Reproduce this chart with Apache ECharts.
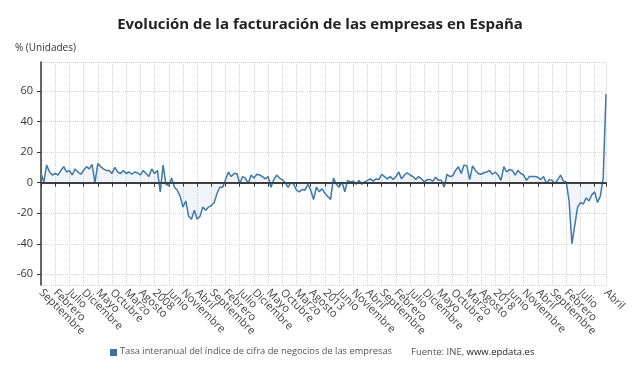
<!DOCTYPE html>
<html>
<head>
<meta charset="utf-8">
<script src="https://cdn.jsdelivr.net/npm/echarts@6/dist/echarts.min.js"></script>
<style>
    html, body { margin: 0; padding: 0; background: #fff; }
    #chart { width: 640px; height: 376px; }
</style>
</head>
<body>
<div id="chart"></div>
<script>
    // nombres de los meses (eje X mensual desde septiembre de 2004)
    var monthNames = ['Enero', 'Febrero', 'Marzo', 'Abril', 'Mayo', 'Junio', 'Julio',
        'Agosto', 'Septiembre', 'Octubre', 'Noviembre', 'Diciembre'];
    var startYear = 2004;
    var startMonth = 8; // septiembre

    // tasa interanual (%) sep 2004 - abr 2021
    var tasa = [
        6, 0.5, 11.5, 7, 5, 6, 5, 8, 10.5, 7,
        8, 5, 9, 7, 5.5, 8, 10.5, 9, 12, 0,
        12.5, 10.5, 9, 8, 8, 6, 10, 7, 6, 8,
        6, 7, 5.5, 7, 6.5, 5, 8, 6, 4, 9,
        6, 8, -6, 11.5, -1, -2, 3, -3, -5, -9,
        -16, -12, -22, -24, -18, -24, -22, -16, -18, -16,
        -15, -13, -7, -3, -3, 2, 7, 4, 6, 6,
        -0.5, 4, 3, -0.5, 5, 3, 5.5, 5, 4, 2.5,
        4, -3, 2, 5, 3, 2, 0, -3, 0, -1,
        -5, -6, -4.5, -5, -1, -5, -11, -3, -6, -4,
        -7, -9, -11, 3, -1, -3, 0.5, -6, 1.5, 0.5,
        1, -1, 1.5, -1, 0.5, 1.5, 2.5, 1, 2.5, 2,
        5.5, 4, 2.5, 4, 2, 4, 7, 2.5, 5, 6.5,
        5, 4, 2, 4, 2.5, 0.5, 2, 2, 1, 3.5,
        1.5, 1.5, -3, 5.5, 4, 4.5, 8, 10.5, 6, 11.5,
        11, 2, 11, 8, 6, 5.5, 6.5, 7, 8, 5.5,
        7, 5, 1.5, 10.5, 7, 8.5, 8, 5, 8, 6,
        5, 1.5, 4, 4, 4, 3.5, 2, 4, -0.5, 2,
        1.5, -0.5, 2, 5, 1, 0.5, -12, -40, -28, -16,
        -13, -14, -10, -12, -8, -6, -13, -9, 3, 58
    ];

    var yTicks = [-60, -40, -20, 0, 20, 40, 60];

    var categorias = [];
    for (var i = 0; i < tasa.length; i++) {
        var m = (startMonth + i) % 12;
        var y = startYear + Math.floor((startMonth + i) / 12);
        categorias.push(m === 0 ? String(y) : monthNames[m]);
    }
    var last = categorias.length - 1;

    function tickShown(idx) {
        return idx % 5 === 0 || idx === last;
    }
    function labelShown(idx) {
        return (idx % 5 === 0 && last - idx > 5) || idx === last;
    }

    var chart = echarts.init(document.getElementById('chart'));
    var option = {
        animation: false,
        textStyle: { fontFamily: '"Open Sans", "Noto Sans", sans-serif' },
        title: {
            text: 'Evolución de la facturación de las empresas en España',
            left: 'center',
            top: 12,
            textStyle: { fontSize: 15, fontWeight: 'bold', color: '#222' }
        },
        grid: { left: 41, right: 34, top: 62, bottom: 91 },
        xAxis: {
            type: 'category',
            boundaryGap: false,
            data: categorias,
            axisLine: { lineStyle: { color: '#333', width: 1.5 } },
            axisTick: { interval: tickShown, length: 4, lineStyle: { color: '#333' } },
            axisLabel: {
                // interval 0 + formatter: se muestran todas las etiquetas elegidas
                interval: 0,
                hideOverlap: false,
                formatter: function (val, idx) { return labelShown(idx) ? val : ''; },
                rotate: -45,
                color: '#444',
                fontSize: 11,
                margin: 6
            },
            splitLine: {
                show: true,
                interval: tickShown,
                lineStyle: { color: '#d6d6d6', type: 'dotted' }
            }
        },
        yAxis: {
            type: 'value',
            name: '% (Unidades)',
            nameLocation: 'end',
            nameGap: 9,
            nameTextStyle: { color: '#333', fontSize: 10, align: 'left', padding: [0, 0, 0, -26] },
            min: -67,
            max: 79,
            minInterval: 20,
            maxInterval: 20,
            axisLine: { show: true, lineStyle: { color: '#333', width: 1.5 } },
            axisTick: { show: true, length: 4, lineStyle: { color: '#333' } },
            axisLabel: {
                color: '#333',
                fontSize: 11,
                margin: 8,
                showMinLabel: false,
                showMaxLabel: false,
                formatter: function (v) { return yTicks.indexOf(v) >= 0 ? v : ''; }
            },
            splitLine: { lineStyle: { color: '#d6d6d6', type: 'dotted' } }
        },
        legend: { show: false },
        series: [{
            name: 'Tasa interanual del índice de cifra de negocios de las empresas',
            type: 'line',
            data: tasa,
            showSymbol: false,
            lineStyle: { color: '#3e78a8', width: 1.5 },
            itemStyle: { color: '#3e78a8' },
            areaStyle: { color: 'rgba(62,120,168,0.10)', origin: 0 },
            markLine: {
                silent: true,
                symbol: 'none',
                label: { show: false },
                lineStyle: { color: '#333', width: 1.5, type: 'solid' },
                data: [{ yAxis: 0 }]
            }
        }],
        graphic: [
            { type: 'rect', left: 110, top: 349, shape: { width: 7, height: 7 }, style: { fill: '#3e6f9e' } },
            {
                type: 'text', left: 120, top: 347,
                style: { text: 'Tasa interanual del índice de cifra de negocios de las empresas', fill: '#555', fontSize: 9.3, fontFamily: '"Open Sans", sans-serif' }
            },
            {
                type: 'text', left: 411, top: 347,
                style: {
                    text: '{a|Fuente: INE, }{b|www.epdata.es}',
                    rich: {
                        a: { fill: '#555', fontSize: 9.5, fontFamily: '"Open Sans", sans-serif' },
                        b: { fill: '#222', fontSize: 9.5, fontFamily: '"Open Sans", sans-serif' }
                    }
                }
            }
        ]
    };
    chart.setOption(option);
</script>
</body>
</html>
